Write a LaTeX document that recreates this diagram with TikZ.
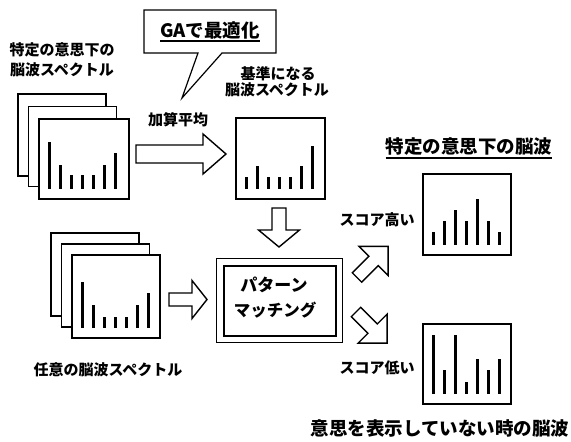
\documentclass[tikz,border=0pt]{standalone}
\usepackage{fontspec}
\setmainfont{Noto Sans CJK JP}
\usetikzlibrary{calc}
\tikzset{
  panel/.style={draw, line width=1.7pt, fill=white, minimum width=88pt, minimum height=80pt, anchor=north west, inner sep=0pt},
  bar/.style={line width=2.2pt},
  barrow/.style={draw, line width=1.4pt, line join=miter, fill=white},
  lbl/.style={font=\bfseries\fontsize{15}{17}\selectfont, inner sep=1pt},
  biglbl/.style={font=\bfseries\fontsize{18.5}{20}\selectfont, inner sep=1pt},
}
\newcommand{\blockarrow}[7]{\draw[barrow,shift={(#1,#2)},rotate=#3] (0,-#5) -- ({#4-#7},-#5) -- ({#4-#7},-#6) -- (#4,0) -- ({#4-#7},#6) -- ({#4-#7},#5) -- (0,#5) -- cycle;}
\newcommand{\spectrum}[2]{\foreach \h [count=\i] in {#2} \draw[bar] ($(#1.south west)+(0.5+\i*11,-11)$) -- ++(0,-\h);}
\begin{document}
\begin{tikzpicture}[x=1pt,y=-1pt]
\useasboundingbox (0,0) rectangle (571,442);
% top-left stack
\node[panel, minimum height=82pt] (s1a) at (17,93) {};
\node[panel] (s1b) at (27.5,105.5) {};
\node[panel, minimum width=90pt] (s1c) at (38,118) {};
\spectrum{s1c}{47,24,14,14,14,24,36}
\node[lbl] (t1a) at (62,50) {特定の意思下の};
\node[lbl] (t1b) at (62,70) {脳波スペクトル};
% callout
\draw[line width=1.2pt, fill=white] (144,10) -- (276,10) -- (276,53) -- (222,53) -- (182,98) -- (198,53) -- (144,53) -- cycle;
\node[biglbl, inner sep=0pt] (ga) at (210,30) {GAで最適化};
\draw[line width=1.3pt] ($(ga.south west)+(0,2)$) -- ($(ga.south east)+(0,2)$);
\node[lbl] (avg) at (178,120) {加算平均};
% big arrow
\blockarrow{136}{154}{0}{90}{9}{20}{23}
% reference panel
\node[panel, minimum width=89pt, minimum height=81pt] (ref) at (235,117) {};
\spectrum{ref}{12,23,12,12,12,23,43}
\node[lbl] (t2a) at (278,74) {基準になる};
\node[lbl] (t2b) at (277,90) {脳波スペクトル};
% down arrow
\blockarrow{279}{208}{-90}{39}{7}{20.5}{17}
% bottom-left stack
\node[panel, minimum height=83pt] (s2a) at (50,232) {};
\node[panel, minimum height=83pt] (s2b) at (60.5,243) {};
\node[panel, minimum height=83pt] (s2c) at (71,254) {};
\spectrum{s2c}{46,23,11,11,11,23,35}
\node[lbl] (t3) at (108,370) {任意の脳波スペクトル};
% small right arrow
\blockarrow{169}{299.5}{0}{38}{6.5}{19}{15}
% pattern matching box
\node[draw, line width=1.1pt, minimum width=126pt, minimum height=84pt, anchor=north west] (pmo) at (216,258) {};
\node[draw, line width=2pt, minimum width=112pt, minimum height=70pt, anchor=north west] (pmi) at (223,265) {};
\node[font=\bfseries\fontsize{17}{19}\selectfont, inner sep=0pt] (pm1) at (274,285) {パターン};
\node[font=\bfseries\fontsize{16.5}{19}\selectfont, inner sep=0pt] (pm2) at (275,310) {マッチング};
% diagonal arrows
\blockarrow{357}{277.5}{45}{44}{6.7}{20.5}{20.5}
\blockarrow{356}{312}{-45}{44}{6.7}{20.5}{20.5}
% right panels
\node[biglbl] (t4) at (469,147) {特定の意思下の脳波};
\draw[line width=1.3pt] ($(t4.south west)+(1,1)$) -- ($(t4.south east)+(-1,1)$);
\node[panel, minimum height=81pt] (hi) at (422,173) {};
\spectrum{hi}{13,24,35,24,46,24,13}
\node[lbl] (t5) at (377,220) {スコア高い};
\node[panel] (lo) at (422,323) {};
\spectrum{lo}{59,24,59,12,35,24,35}
\node[lbl] (t6) at (377,368) {スコア低い};
\node[biglbl] (t7) at (440,428) {意思を表示していない時の脳波};
\end{tikzpicture}
\end{document}
